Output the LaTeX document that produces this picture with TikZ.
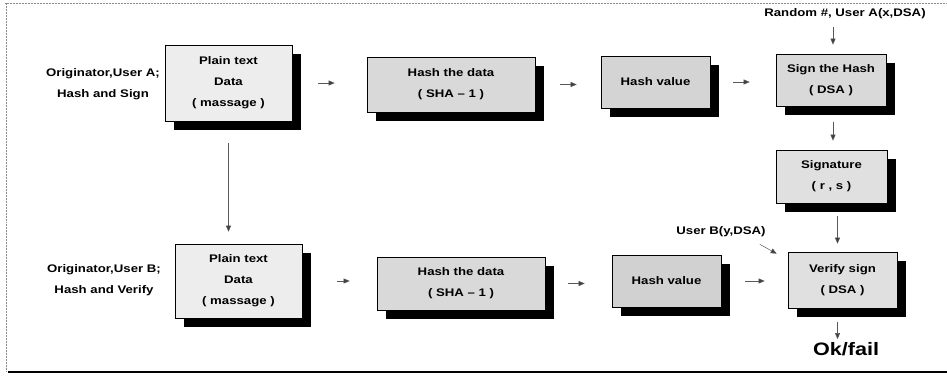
\documentclass[tikz,border=0pt]{standalone}
\usepackage{fontspec}
\setmainfont{Liberation Sans}[FakeStretch=1.2]
\usetikzlibrary{arrows.meta,shadows,calc}
\begin{document}
\begin{tikzpicture}[x=1pt,y=-1pt,
  box/.style={draw=black,line width=0.6pt,align=center,inner sep=0pt,
    font=\fontsize{11}{21}\selectfont\bfseries,
    drop shadow={shadow xshift=9pt,shadow yshift=-9pt,fill=black,opacity=1}},
  lbl/.style={align=center,inner sep=1pt,font=\fontsize{11}{21}\selectfont\bfseries},
  arr/.style={draw=black!65,line width=0.5pt,-{Triangle[length=6pt,width=5pt,fill=black!75]}},
  frameline/.style={draw=black!45,line width=0.5pt,densely dotted}]
\useasboundingbox (0,0) rectangle (947,379);
% frame
\draw[frameline] (5,3) -- (947,3);
\draw[frameline] (6,3) -- (6,372);
\draw[black,line width=1.3pt] (8,372) -- (947,372);
% labels
\node[lbl] (la) at (103,84.5) {Originator,User A;\\Hash and Sign};
\node[lbl] (lb) at (104,280.5) {Originator,User B;\\Hash and Verify};
\node[lbl] (r) at (845,14) {Random \#, User A(x,DSA)};
\node[lbl] (u) at (721,232) {User B(y,DSA)};
\node[inner sep=1pt,font=\fontsize{18}{20}\selectfont\bfseries] (ok) at (846,349) {Ok/fail};
% top row
\node[box,fill=gray!14,minimum width=127pt,minimum height=76pt] (a1) at (228.5,83) {Plain text\\Data\\( massage )};
\node[box,fill=gray!30,minimum width=168pt,minimum height=55pt] (a2) at (451,84.5) {Hash the data\\( SHA -- 1 )};
\node[box,fill=gray!34,minimum width=109pt,minimum height=52pt] (a3) at (655.5,82) {Hash value};
\node[box,fill=gray!30,minimum width=110pt,minimum height=52pt] (a4) at (831,80) {Sign the Hash\\( DSA )};
\node[box,fill=gray!24,minimum width=111pt,minimum height=53pt] (a5) at (831.5,176.5) {Signature\\( r , s )};
% bottom row
\node[box,fill=gray!14,minimum width=127pt,minimum height=74pt] (b1) at (238.5,281) {Plain text\\Data\\( massage )};
\node[box,fill=gray!30,minimum width=168pt,minimum height=53pt] (b2) at (461,283.5) {Hash the data\\( SHA -- 1 )};
\node[box,fill=gray!36,minimum width=109pt,minimum height=52pt] (b3) at (666.5,281) {Hash value};
\node[box,fill=gray!24,minimum width=109pt,minimum height=56pt] (b4) at (842.5,280) {Verify sign\\( DSA )};
% connectors top row
\draw[arr,shorten <=26pt,shorten >=32pt] (a1.east) -- (a1.east -| a2.west);
\draw[arr,shorten <=25pt,shorten >=24pt] (a2.east) -- (a2.east -| a3.west);
\draw[arr,shorten <=23pt,shorten >=26pt] (a3.east) -- (a3.east -| a4.west);
% bottom row
\draw[arr,shorten <=35pt,shorten >=27pt] (b1.east) -- (b1.east -| b2.west);
\draw[arr,shorten <=23pt,shorten >=27pt] (b2.east) -- (b2.east -| b3.west);
\draw[arr,shorten <=24pt,shorten >=23pt] (b3.east) -- (b3.east -| b4.west);
% verticals
\draw[arr,shorten <=22pt,shorten >=12pt] (a1.south) -- (a1.south |- b1.north);
\draw[arr,shorten <=7pt,shorten >=9pt] ([xshift=2pt]a4.north |- r.south) -- ([xshift=2pt]a4.north);
\draw[arr,shorten <=16pt,shorten >=9pt] ([xshift=2pt]a4.south) -- ([xshift=2pt]a4.south |- a5.north);
\draw[arr,shorten <=13pt,shorten >=8pt] ([xshift=-5pt]b4.north |- a5.south) -- ([xshift=-5pt]b4.north);
\draw[arr,shorten <=14pt,shorten >=2pt] ([xshift=-5pt]b4.south) -- ([xshift=-5pt]b4.south |- ok.north);
\coordinate (ub) at ($(u.south east)+(-7,6)$);
\draw[arr] (ub) -- ($(b4.north west)+(-11,2)$);
\end{tikzpicture}
\end{document}
